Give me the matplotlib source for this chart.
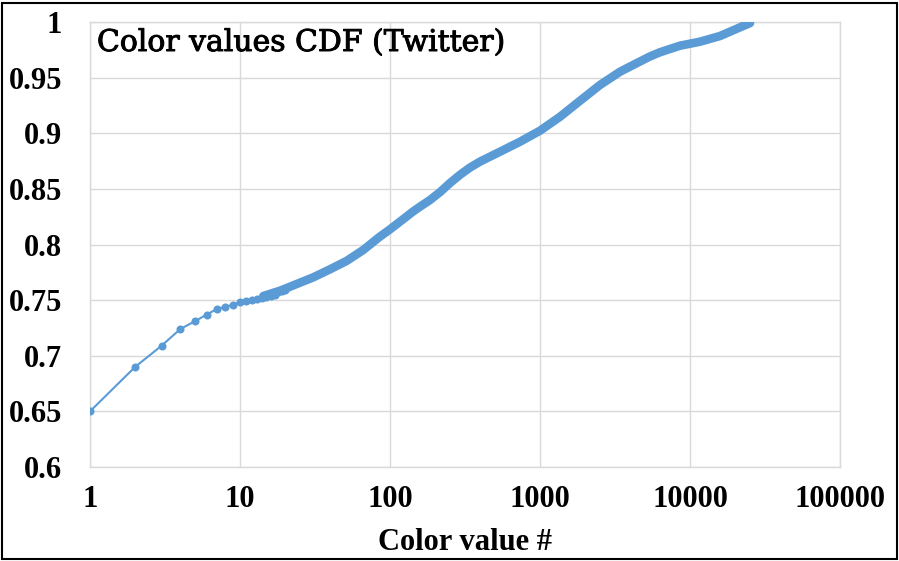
import matplotlib
matplotlib.use("Agg")
import matplotlib.pyplot as plt
import matplotlib.patheffects as pe
from matplotlib.ticker import FixedLocator, FuncFormatter, NullLocator
from matplotlib.patches import Rectangle

# first color values, one marker each
sparse_x = [1, 2, 3, 4, 5, 6, 7, 8, 9, 10, 11, 12, 13, 14, 15, 16, 17, 18, 19, 20]
sparse_y = [0.650, 0.690, 0.709, 0.724, 0.731, 0.737, 0.742, 0.744, 0.746, 0.748,
            0.749, 0.750, 0.751, 0.752, 0.753, 0.754, 0.755, 0.757, 0.758, 0.759]

# dense part of the curve (markers overlap into a thick band)
dense_x = [14.3, 18.5, 23.9, 30.8, 39.8, 51.3, 66.2, 85.5, 100, 142, 158.5, 184.8,
           215, 250, 292, 340, 398, 541, 736, 1000, 1359, 1848, 2512, 3415, 4642,
           5400, 6310, 8577, 11659, 15849, 21544, 25119]
dense_y = [0.7537, 0.7585, 0.7645, 0.7705, 0.7777, 0.7852, 0.795, 0.807, 0.8136,
           0.8295, 0.834, 0.840, 0.847, 0.855, 0.8625, 0.869, 0.8745, 0.8834,
           0.8924, 0.9023, 0.9148, 0.9292, 0.9434, 0.9553, 0.9645, 0.969, 0.9728,
           0.9787, 0.9823, 0.9874, 0.9952, 0.9990]

x_ticks = [1, 10, 100, 1000, 10000, 100000]
y_ticks = [0.6, 0.65, 0.7, 0.75, 0.8, 0.85, 0.9, 0.95, 1.0]

blue = "#5B9BD5"
grid_col = "#D9D9D9"

fig = plt.figure(figsize=(8.99, 5.61), dpi=100)
ax = fig.add_axes([90 / 899, 94 / 561, 750 / 899, 445 / 561])

ax.plot(sparse_x, sparse_y, color=blue, lw=1.5, marker="o", ms=5.8,
        markeredgewidth=0, zorder=3)
ax.plot(dense_x, dense_y, color=blue, lw=6.2, solid_capstyle="round",
        solid_joinstyle="round", zorder=3)

ax.set_xscale("log")
ax.set_xlim(1, 100000)
ax.set_ylim(0.6, 1.0)
ax.xaxis.set_major_locator(FixedLocator(x_ticks))
ax.xaxis.set_minor_locator(NullLocator())
ax.xaxis.set_major_formatter(FuncFormatter(lambda v, p: f"{int(round(v))}"))
ax.yaxis.set_major_locator(FixedLocator(y_ticks))
ax.yaxis.set_major_formatter(FuncFormatter(lambda v, p: f"{v:g}"))

ax.grid(True, color=grid_col, lw=1)
ax.set_axisbelow(True)
for s in ax.spines.values():
    s.set_color(grid_col)
    s.set_linewidth(1)
ax.tick_params(length=0)
ax.tick_params(axis="y", pad=20)
ax.tick_params(axis="x", pad=13)

for lab in ax.get_xticklabels() + ax.get_yticklabels():
    lab.set_fontfamily("Liberation Serif")
    lab.set_fontweight("bold")
    lab.set_fontsize(22)

ax.set_xlabel("Color value #", fontfamily="Liberation Serif", fontweight="bold",
              fontsize=22, labelpad=10)

title = fig.text(97 / 899, 1 - 51 / 561, "Color values CDF (Twitter)",
                 fontfamily="DejaVu Serif", fontsize=21.5, va="baseline", ha="left")
title.set_path_effects([pe.withStroke(linewidth=0.7, foreground="black")])

# outer frame
fig.patches.append(Rectangle((2 / 899, 2 / 561), 895 / 899, 556 / 561,
                             transform=fig.transFigure, fill=False,
                             edgecolor="black", lw=1.5))

fig.savefig("out.png", dpi=100)
